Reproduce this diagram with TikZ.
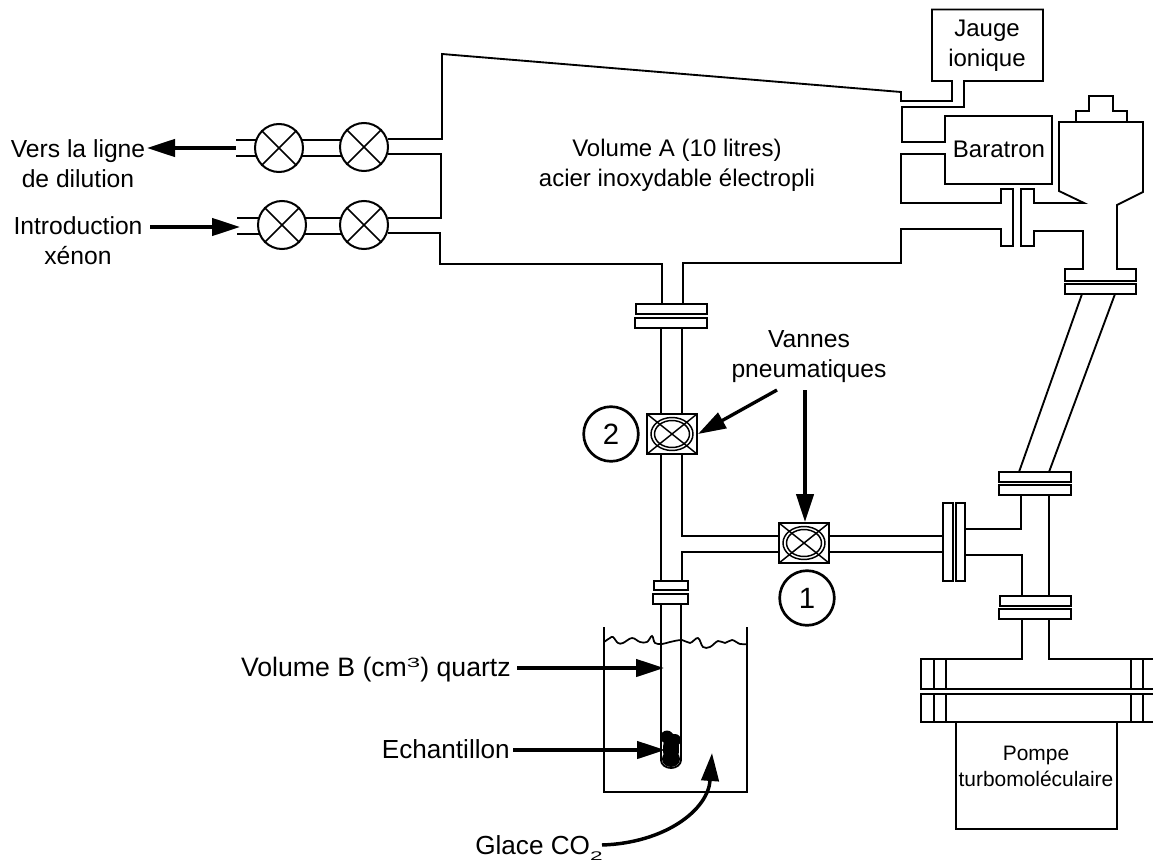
\documentclass[tikz,border=0pt]{standalone}
\usepackage{fontspec}
\setmainfont{Liberation Sans}
\usetikzlibrary{arrows.meta}
\tikzset{
  pipe/.style={line width=1.4pt,line join=miter},
  thin pipe/.style={line width=1.2pt},
  plate/.style={line width=1.4pt,draw=black,fill=white},
  lbl/.style={inner sep=0pt,align=center,font=\fontsize{18}{22.5}\selectfont},
  lblc/.style={inner sep=0pt,align=center,font=\fontsize{18.5}{22.5}\selectfont},
  lbld/.style={inner sep=0pt,font=\fontsize{19.6}{22.5}\selectfont},
  lblb/.style={inner sep=0pt,align=center,font=\fontsize{15.7}{19.5}\selectfont},
  bigarrow/.style={line width=2.5pt,-{Triangle[length=21pt,width=13pt]}},
  valve/.style={circle,draw=black,fill=white,line width=1.5pt,minimum size=36pt,inner sep=0pt},
  numc/.style={circle,draw=black,line width=2pt,minimum size=41pt,inner sep=0pt,font=\fontsize{22}{24}\selectfont},
}
\newcommand{\crossvalve}[3]{%
  \node[valve] (#1) at (#2,#3) {};
  \draw[thin pipe] (#1.45) -- (#1.225) (#1.135) -- (#1.315);
}
\newcommand{\squarevalve}[3]{%
  \coordinate (#1) at (#2,#3);
  \draw[pipe,fill=white] (#2-25,#3-20) rectangle (#2+25,#3+20);
  \draw[line width=1.1pt] (#2,#3) ellipse (21 and 16.5) (#2,#3) ellipse (17.5 and 13.5);
  \draw[line width=1.1pt] (#2-25,#3-20) -- (#2+25,#3+20) (#2-25,#3+20) -- (#2+25,#3-20);
}
\begin{document}
\begin{tikzpicture}[x=0.75pt,y=-0.75pt]
\useasboundingbox (0,0) rectangle (1153,863);
% main volume outline
\draw[pipe] (388,139) -- (442,139) -- (442,54) -- (901,92) -- (901,101) -- (952,101) -- (952,81) -- (932,81) -- (932,9.5) -- (1043,9.5) -- (1043,81) -- (964,81) -- (964,107) -- (902,107) -- (902,142) -- (945,142) -- (945,116) -- (1052,116) -- (1052,184) -- (945,184) -- (945,154) -- (901,154) -- (901,203) -- (1001,203) -- (1001,189) -- (1013,189) -- (1013,246) -- (1001,246) -- (1001,229) -- (901,229) -- (901,263) -- (683,263) -- (683,304);
\draw[pipe] (388,154) -- (441,154) -- (441,218) -- (388,218);
\draw[pipe] (388,233) -- (440,233) -- (440,264) -- (662,264) -- (662,304);
% right column
\draw[pipe] (1034,189) -- (1034,203) -- (1084,203) -- (1059,191) -- (1059,122) -- (1143,122) -- (1143,192) -- (1117,205) -- (1117,269) -- (1136,269) -- (1136,281) -- (1065,281) -- (1065,269) -- (1083,269) -- (1083,231) -- (1034,231) -- (1034,246) -- (1021,246) -- (1021,189) -- cycle;
\draw[pipe] (1076,122) -- (1076,111) -- (1089,111) -- (1089,96) -- (1113,96) -- (1113,111) -- (1127,111) -- (1127,122);
\draw[plate] (1065,284) rectangle (1136,294);
\draw[pipe] (1082,294) -- (1019,472) (1115,294) -- (1049,472);
\draw[plate] (999,472) rectangle (1071,482);
\draw[plate] (999,485) rectangle (1071,495);
\draw[pipe] (1021,495) -- (1021,529) -- (965,529) (965,555) -- (1022,555) -- (1022,596) (1049,495) -- (1049,596);
\draw[plate] (943,503) rectangle (953,581);
\draw[plate] (956,503) rectangle (965,581);
\draw[plate] (1000,596) rectangle (1071,606);
\draw[plate] (999,609) rectangle (1071,619);
% pump
\draw[pipe] (1153,659) -- (1049,659) -- (1049,619) (1022,619) -- (1022,659) -- (921,659) -- (921,689) -- (1153,689);
\draw[pipe] (1153,694) -- (921,694) -- (921,722) -- (1153,722);
\draw[pipe] (934,659) -- (934,689) (946,659) -- (946,689) (934,694) -- (934,722) (946,694) -- (946,722);
\draw[pipe] (1131,659) -- (1131,689) (1143,659) -- (1143,689) (1131,694) -- (1131,722) (1143,694) -- (1143,722);
\draw[pipe] (956,722) -- (956,829) -- (1117,829) -- (1117,722);
% left valves
\draw[thin pipe] (236,140) -- (257,140) (236,156) -- (257,156);
\draw[pipe] (300,140) -- (345,140) (300,156) -- (345,156);
\draw[thin pipe] (237,218) -- (260,218) (237,234) -- (260,234);
\draw[pipe] (300,218) -- (345,218) (300,234) -- (345,234);
\crossvalve{v1}{279}{148}
\crossvalve{v2}{364}{147}
\crossvalve{v3}{282}{225}
\crossvalve{v4}{364}{225}
% vertical tube
\draw[plate] (636,304) rectangle (707,314);
\draw[plate] (635,318) rectangle (707,328);
\draw[pipe] (661,328) -- (661,581) (682,328) -- (682,536) -- (943,536) (682,581) -- (682,552) -- (943,552);
\squarevalve{vp2}{672}{434}
\squarevalve{vp1}{804}{543}
\draw[plate] (654,581) rectangle (688,590);
\draw[plate] (653,594) rectangle (688,604);
% beaker
\draw[pipe] (604,627) -- (604,792) -- (747,792) -- (747,627);
\draw[line width=1.3pt] plot[smooth,tension=0.6] coordinates {(604,642) (610,638) (613,637) (618,643) (623,643) (632,638) (640,642) (647,642) (652,636) (655,643) (662,644) (670,642) (682,640) (690,643) (698,638) (703,647) (710,647) (718,641) (725,643) (732,640) (740,644) (747,644)};
% quartz tube
\draw[pipe] (661,604) -- (661,760) arc[start angle=180,end angle=360,x radius=10,y radius=-8] -- (681,604);
% sample blob
\fill (671,749) ellipse (8 and 16);
\fill (667,737) circle (6.5);
\fill (675,740) circle (6);
\fill (671,759) ellipse (9 and 8);
% labels
\node[lbl] (jauge) at (987,46) {Jauge\\ionique};
\node[lbl] (bara) at (999,149) {Baratron};
\node[lbl] (vola) at (677,165) {Volume A (10 litres)\\acier inoxydable électropli};
\node[lblc] (vers) at (78,164) {Vers la ligne\\de dilution};
\node[lblc] (intro) at (78,241) {Introduction\\xénon};
\node[lblc] (vannes) at (809,357) {Vannes\\pneumatiques};
\node[lbld,anchor=base east,font=\fontsize{20}{22.5}\selectfont] (volb) at (511,676) {Volume B (cm\raisebox{6.5pt}{\scalebox{1.8}[1]{\fontsize{10}{11}\selectfont 3}}) quartz};
\node[lbld,anchor=base east] (echan) at (510,758) {Echantillon};
\node[lbld,anchor=base west] (glace) at (475,854) {Glace CO\raisebox{-5pt}{\scalebox{1.8}[1]{\fontsize{9.4}{10}\selectfont 2}}};
\node[lblb] (pompe) at (1036,766) {Pompe\\turbomoléculaire};
\node[numc] (n2) at (611,434) {2};
\node[numc] (n1) at (807,598) {1};
% arrows
\coordinate (a1s) at (236,148);
\coordinate (a1e) at (147,148);
\coordinate (a2s) at (150,227);
\coordinate (a2e) at (240,227);
\coordinate (a3s) at (777,390);
\coordinate (a3e) at (698,434);
\coordinate (a4s) at (805,390);
\coordinate (a4e) at (805,522);
\coordinate (a5s) at (517,668);
\coordinate (a5e) at (664,668);
\coordinate (a6s) at (513,750);
\coordinate (a6e) at (665,750);
\coordinate (a7s) at (602,845);
\coordinate (a7e) at (712,753);
\draw[bigarrow] (a1s) -- (a1e);
\draw[bigarrow] (a2s) -- (a2e);
\draw[bigarrow] (a3s) -- (a3e);
\draw[bigarrow] (a4s) -- (a4e);
\draw[bigarrow] (a5s) -- (a5e);
\draw[bigarrow] (a6s) -- (a6e);
\draw[line width=2.6pt,-{Triangle[length=21pt,width=13pt]}] (a7s) .. controls (665,843) and (708,810) .. (a7e);
\end{tikzpicture}
\end{document}
